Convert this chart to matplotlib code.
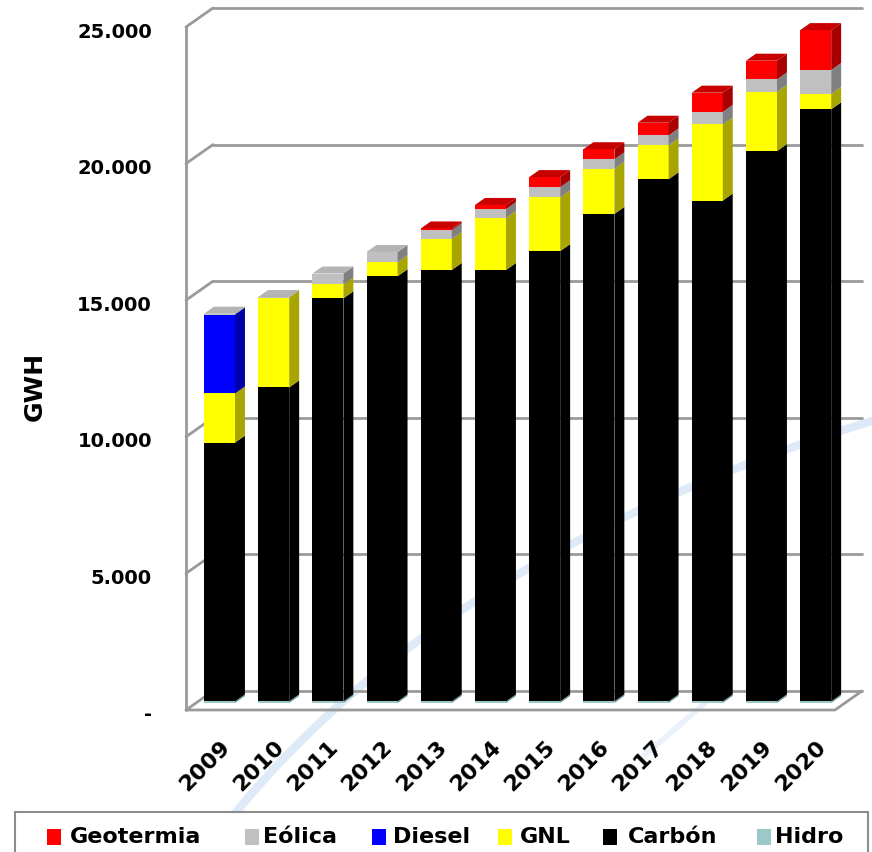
import numpy as np
import matplotlib.pyplot as plt
from matplotlib.patches import Polygon, Rectangle

plt.rcParams['font.family'] = ['DejaVu Sans']
plt.rcParams['font.weight'] = 'bold'

# datos (GWh)
anios = ['2009', '2010', '2011', '2012', '2013', '2014',
         '2015', '2016', '2017', '2018', '2019', '2020']
hidro = [60, 60, 60, 60, 60, 60, 60, 60, 60, 60, 60, 60]
carbon = [9470, 11490, 14750, 15560, 15790, 15790, 16480, 17840, 19110, 18330, 20140, 21670]
gnl = [1800, 3290, 510, 510, 1130, 1900, 1970, 1650, 1240, 2790, 2170, 560]
diesel = [2890, 0, 0, 0, 0, 0, 0, 0, 0, 0, 0, 0]
eolica = [30, 20, 400, 380, 330, 330, 370, 350, 370, 460, 460, 880]
geotermia = [0, 0, 0, 0, 60, 150, 370, 370, 460, 700, 680, 1460]
ticks = [0, 5000, 10000, 15000, 20000, 25000]
tick_labels = ['-', '5.000', '10.000', '15.000', '20.000', '25.000']

# orden de apilado (abajo -> arriba)
series = [('Hidro', hidro), ('Carbón', carbon), ('GNL', gnl),
          ('Diesel', diesel), ('Eólica', eolica), ('Geotermia', geotermia)]
legend_order = ['Geotermia', 'Eólica', 'Diesel', 'GNL', 'Carbón', 'Hidro']

c_front = {'Geotermia': '#FF0000', 'Eólica': '#C0C0C0', 'Diesel': '#0000FF',
           'GNL': '#FFFF00', 'Carbón': '#000000', 'Hidro': '#9CC8C8'}
c_side = {'Geotermia': '#A80000', 'Eólica': '#808080', 'Diesel': '#0000A8',
          'GNL': '#A8A400', 'Carbón': '#000000', 'Hidro': '#6A9A9A'}
c_top = {'Geotermia': '#C80000', 'Eólica': '#B4B4B4', 'Diesel': '#0000C8',
         'GNL': '#D8D400', 'Carbón': '#1A1A1A', 'Hidro': '#88B8B8'}

# escala: pixeles de la imagen -> coordenadas (categoria, valor)
def px2x(px):
    return (px - 219.5) / 54.2

def py2v(py):
    return (703 - py) / 0.02732

SX = 1.42 / 54.2      # desplazamiento x por pixel de profundidad
SY = 1 / 0.02732      # desplazamiento y por pixel de profundidad

def proj(x, v, d):
    return (x + d * SX, v + d * SY)

D_FRONT, D_BACK, D_BAR = -7, 12, 7
X_LEFT = px2x(186) - D_FRONT * SX
X_RIGHT = px2x(835) - D_FRONT * SX
W = 31 / 54.2

fig = plt.figure(figsize=(8.72, 8.52), dpi=100)
ax = fig.add_axes([0, 0, 1, 1])
ax.set_xlim(px2x(0), px2x(872))
ax.set_ylim(py2v(852), py2v(0))
ax.axis('off')

# fondo: trazo azul claro
t = np.linspace(0, 1, 100)
p0, p1, p2 = np.array([205, 852]), np.array([420, 560]), np.array([875, 420])
curve = np.outer((1 - t) ** 2, p0) + np.outer(2 * t * (1 - t), p1) + np.outer(t ** 2, p2)
ax.plot(px2x(curve[:, 0]), py2v(curve[:, 1]), color='#D2E2F6', lw=6, alpha=0.7,
        solid_capstyle='round', zorder=0)
ax.plot(px2x(np.array([645, 720])), py2v(np.array([755, 690])), color='#DDE8F7',
        lw=4, alpha=0.6, zorder=0)

# paredes y rejilla
grid_kw = dict(color='#9A9A9A', lw=2, zorder=1, solid_capstyle='round')
for v in ticks:
    a = proj(X_LEFT, v, D_BACK)
    b = proj(X_RIGHT, v, D_BACK)
    ax.plot([a[0], b[0]], [a[1], b[1]], **grid_kw)
    a = proj(X_LEFT, v, D_FRONT)
    b = proj(X_LEFT, v, D_BACK)
    ax.plot([a[0], b[0]], [a[1], b[1]], **grid_kw)
a = proj(X_LEFT, 0, D_FRONT)
b = proj(X_LEFT, ticks[-1], D_FRONT)
ax.plot([a[0], b[0]], [a[1], b[1]], **grid_kw)
c = proj(X_RIGHT, 0, D_FRONT)
d = proj(X_RIGHT, 0, D_BACK)
ax.plot([a[0], c[0], d[0]], [a[1], c[1], d[1]], **grid_kw)

# barras apiladas con efecto 3D
x = np.arange(len(anios))
bottom = np.zeros(len(anios))
top_name = [None] * len(anios)
for name, vals in series:
    vals = np.array(vals, dtype=float)
    ax.bar(x, vals, bottom=bottom, width=W, color=c_front[name], lw=0, zorder=3)
    for i in range(len(anios)):
        if vals[i] <= 0:
            continue
        xr = x[i] + W / 2
        b0, b1 = bottom[i], bottom[i] + vals[i]
        pts = [proj(xr, b0, 0), proj(xr, b1, 0), proj(xr, b1, D_BAR), proj(xr, b0, D_BAR)]
        ax.add_patch(Polygon(pts, closed=True, fc=c_side[name], ec='none', zorder=3))
        top_name[i] = name
    bottom = bottom + vals

for i in range(len(anios)):
    xl, xr, tv = x[i] - W / 2, x[i] + W / 2, bottom[i]
    pts = [proj(xl, tv, 0), proj(xr, tv, 0), proj(xr, tv, D_BAR), proj(xl, tv, D_BAR)]
    ax.add_patch(Polygon(pts, closed=True, fc=c_top[top_name[i]], ec='none', zorder=3))

# etiquetas eje y (un poco por debajo de la arista frontal)
for v, lab in zip(ticks, tick_labels):
    ax.text(px2x(152), proj(0, v, D_FRONT - 5)[1], lab, ha='right', va='center',
            fontsize=14, fontweight='bold')
ax.text(px2x(35), py2v(386), 'GWH', rotation=90, ha='center', va='center',
        fontsize=18, fontweight='bold')

# etiquetas eje x
for i, lab in enumerate(anios):
    ax.text(x[i] + 7 / 54.2, py2v(744), lab, rotation=45, rotation_mode='anchor',
            ha='right', va='center', fontsize=16, fontweight='bold')

# leyenda
ax.add_patch(Rectangle((px2x(15), py2v(870)), px2x(868) - px2x(15), py2v(812) - py2v(870),
                       fc='white', ec='#8C8C8C', lw=1.5, zorder=4, clip_on=False))
leg_pos = {'Geotermia': (47, 70), 'Eólica': (245, 263), 'Diesel': (372, 393),
           'GNL': (498, 520), 'Carbón': (603, 628), 'Hidro': (757, 775)}
for name in legend_order:
    sx, tx = leg_pos[name]
    ax.add_patch(Rectangle((px2x(sx), py2v(845)), 14 / 54.2, py2v(829) - py2v(845),
                           fc=c_front[name], ec='none', zorder=5))
    ax.text(px2x(tx), py2v(837), name, ha='left', va='center', fontsize=16,
            fontweight='bold', zorder=5)

plt.savefig('out.png', dpi=100)
